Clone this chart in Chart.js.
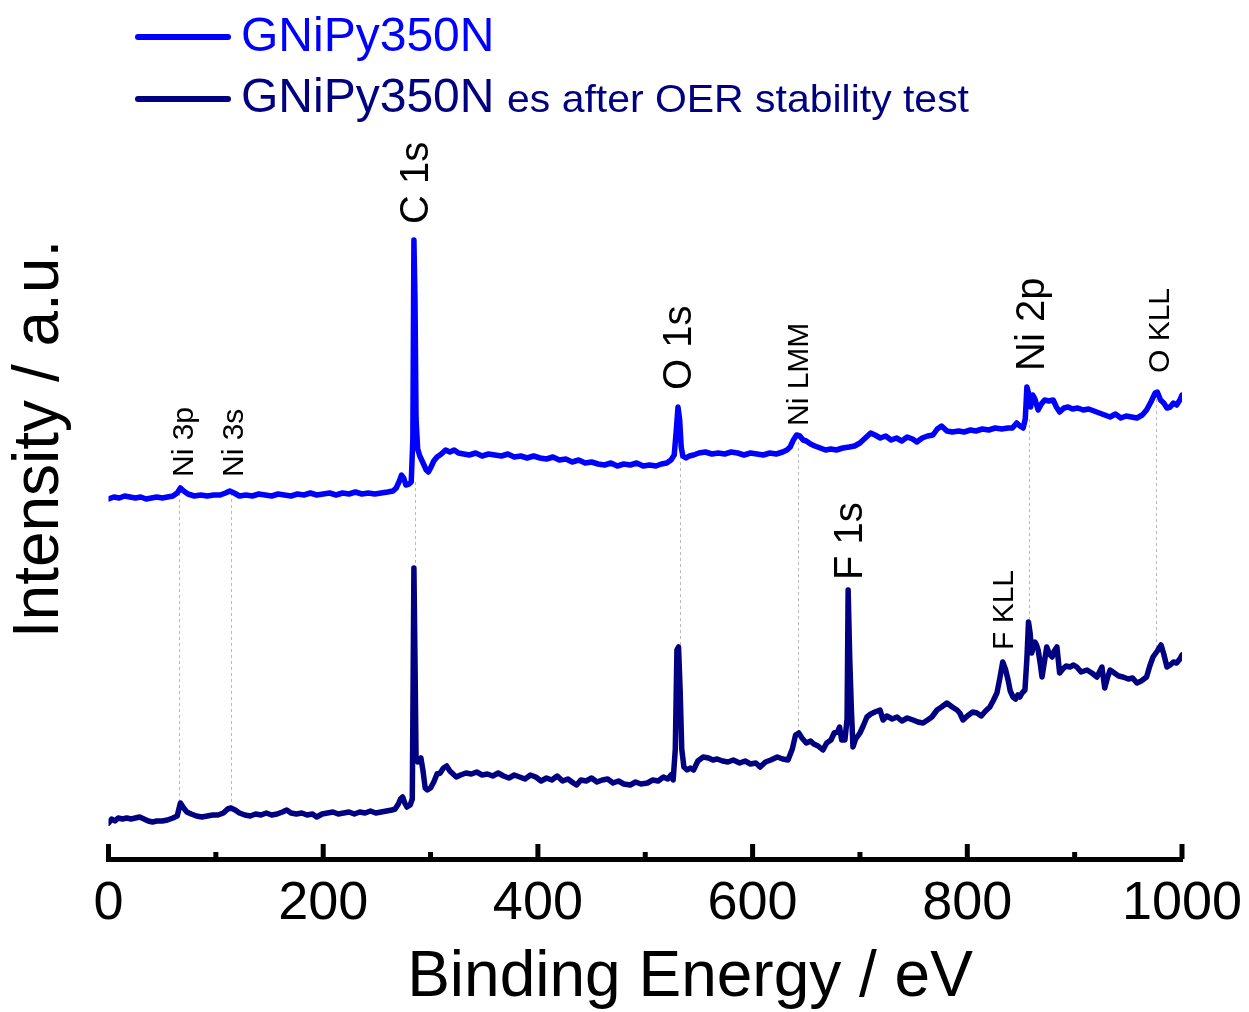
<!DOCTYPE html>
<html>
<head>
<meta charset="utf-8">
<title>XPS survey</title>
<script src="https://cdn.jsdelivr.net/npm/chart.js@4.4.1/dist/chart.umd.min.js"></script>
<style>
  html, body { margin: 0; padding: 0; background: #fff; }
  canvas { display: block; }
</style>
</head>
<body>
<canvas id="xpsChart" width="1249" height="1012"></canvas>
<script>
// binding energy (eV) / intensity (a.u.)
const pristineEnergy = [
  0, 5, 10, 15, 20, 25, 30, 35, 40, 45, 50, 55, 60, 64, 67, 70, 74, 80, 86, 92, 98, 104, 109, 113, 117, 122,
  128, 134, 140, 146, 152, 158, 164, 170, 176, 182, 188, 194, 200, 206, 212, 218, 224, 230, 236, 242, 248, 254,
  260, 265, 268, 271, 273, 275, 277, 280, 282, 283.5, 284.5, 285.5, 286.5, 288, 290, 293, 296, 298, 300, 303,
  306, 310, 314, 318, 322, 326, 331, 336, 342, 348, 354, 360, 366, 372, 378, 384, 390, 396, 402, 408, 414, 420,
  426, 432, 438, 444, 450, 456, 462, 468, 474, 480, 486, 492, 498, 504, 510, 515, 520, 524, 527, 529, 530.5,
  532, 533.5, 535, 538, 541, 545, 550, 556, 562, 568, 574, 580, 586, 592, 598, 604, 610, 616, 622, 628, 632,
  635, 638, 641, 644, 647, 650, 654, 658, 663, 668, 673, 678, 684, 690, 695, 700, 705, 710, 714, 719, 724, 729,
  734, 739, 744, 749, 753, 758, 763, 768, 772, 776, 781, 786, 792, 797, 803, 808, 814, 820, 826, 832, 838, 842,
  846, 849, 852, 854, 855.5, 857, 859, 861, 863, 866, 869, 872, 876, 880, 883, 886, 890, 894, 898, 903, 908,
  913, 918, 923, 928, 933, 938, 943, 948, 953, 958, 963, 967, 971, 975, 977, 980, 983, 986, 989, 992, 995, 998,
  1000
];
const pristineIntensity = [
  360, 362, 361, 363, 362, 361, 362, 360, 361, 362, 361, 362, 363, 366, 371, 368, 365, 363, 364, 363, 364, 364,
  366, 368, 366, 363, 364, 363, 365, 364, 363, 365, 364, 363, 365, 364, 366, 364, 365, 366, 364, 366, 365, 367,
  365, 366, 365, 366, 367, 368, 371, 378, 384, 381, 374, 375, 377, 420, 619, 560, 440, 410, 403, 396, 389, 387,
  391, 398, 402, 405, 409, 407, 409, 406, 405, 404, 406, 403, 405, 404, 403, 405, 402, 403, 401, 403, 401, 400,
  402, 399, 400, 397, 399, 396, 397, 395, 394, 396, 393, 395, 394, 396, 393, 394, 393, 395, 396, 399, 404, 430,
  452, 440, 412, 403, 401, 403, 404, 406, 407, 405, 406, 405, 407, 406, 404, 406, 405, 404, 406, 405, 407, 409,
  412, 419, 424, 423, 419, 418, 415, 413, 411, 409, 410, 409, 411, 412, 413, 416, 421, 426, 424, 421, 423, 419,
  421, 418, 422, 420, 417, 421, 423, 424, 430, 433, 428, 427, 428, 427, 429, 428, 430, 429, 431, 430, 431, 431,
  436, 433, 431, 440, 472, 466, 452, 464, 460, 449, 455, 459, 458, 459, 452, 447, 451, 452, 450, 451, 449, 450,
  448, 446, 444, 442, 445, 441, 443, 442, 441, 444, 449, 457, 466, 467, 459, 456, 451, 452, 456, 454, 459, 464
];

const afterEnergy = [
  0, 3, 6, 9, 13, 17, 21, 25, 29, 33, 37, 41, 45, 50, 55, 60, 64, 67, 70, 73, 77, 82, 87, 92, 97, 102, 107, 111,
  114, 118, 122, 127, 132, 137, 142, 147, 152, 157, 162, 166, 170, 175, 180, 185, 190, 194, 199, 204, 209, 214,
  219, 224, 229, 234, 239, 244, 249, 254, 259, 264, 267, 270, 272, 274, 276, 278, 281, 283, 284.5, 285.5, 286.5,
  288, 289.5, 291, 293, 295, 297, 300, 303, 306, 309, 312, 315, 318, 321, 324, 328, 333, 338, 343, 348, 353, 358,
  363, 368, 373, 378, 383, 388, 393, 398, 403, 408, 413, 418, 423, 428, 433, 436, 440, 445, 450, 455, 460, 465,
  470, 475, 480, 486, 491, 496, 502, 507, 512, 517, 521, 524, 526, 528, 529.5, 531, 532.5, 534, 536, 539, 542,
  545, 549, 554, 559, 563, 567, 572, 577, 582, 588, 593, 598, 603, 607, 612, 617, 623, 628, 633, 637, 640, 643,
  646, 650, 654, 657, 661, 665.5, 669, 673, 676, 679, 681, 683, 686, 688, 689, 690.5, 692, 693.5, 696, 700, 703,
  706.5, 710, 714, 718.7, 721.5, 725, 730, 734.6, 739, 744, 749.5, 754, 758.8, 763, 767, 771.8, 776, 781, 786,
  790.4, 793, 796, 800, 805, 809, 813, 817, 821, 824, 827.6, 830, 833, 835.5, 838, 840, 842.6, 845, 847, 849,
  851, 853.7, 855.5, 857, 858.5, 860, 861.5, 863, 864.5, 866, 868, 869.6, 871.5, 874, 876.5, 879, 881, 883.5,
  886, 889, 892, 895.6, 899, 902, 906, 911.5, 916, 920.8, 925.4, 928, 930.5, 933, 937, 941, 945, 950, 954, 958,
  962, 967, 970, 973, 977, 980.5, 983, 986, 989, 992, 995, 998, 1000
];
const afterIntensity = [
  36, 40, 38, 41, 40, 41, 40, 41, 42, 40, 38, 37, 38, 38, 39, 41, 43, 56, 51, 47, 45, 43, 42, 43, 44, 44, 46, 50,
  51, 49, 46, 44, 43, 45, 44, 46, 44, 45, 47, 49, 46, 45, 46, 44, 45, 42, 45, 46, 47, 45, 46, 47, 45, 47, 46, 48,
  46, 47, 48, 49, 50, 55, 60, 62, 56, 52, 54, 60, 291, 200, 102, 97, 98, 101, 88, 71, 69, 71, 77, 85, 86, 91, 93,
  88, 85, 82, 84, 86, 85, 87, 84, 85, 83, 86, 83, 81, 84, 82, 80, 84, 82, 78, 81, 79, 83, 78, 80, 76, 74, 79, 78,
  81, 77, 79, 80, 76, 78, 75, 74, 77, 75, 76, 79, 78, 82, 80, 84, 79, 110, 209, 212, 169, 110, 92, 89, 91, 89,
  98, 102, 101, 99, 100, 98, 97, 99, 96, 98, 95, 96, 92, 97, 99, 102, 100, 99, 110, 124, 126, 121, 116, 118, 115,
  113, 109, 116, 119, 126, 127, 132, 119, 119, 140, 269, 200, 150, 112, 120, 126, 133, 142, 145, 147, 149, 139,
  143, 140, 142, 138, 141, 139, 137, 136, 139, 142, 149, 152, 156, 152, 149, 146, 139, 143, 147, 146, 143, 148,
  152, 158, 166, 179, 197, 190, 179, 168, 162, 160, 164, 162, 166, 169, 200, 237, 226, 206, 212, 217, 214, 209,
  195, 182, 195, 212, 205, 202, 208, 212, 186, 190, 193, 192, 194, 192, 187, 189, 186, 182, 192, 171, 181, 189,
  186, 183, 182, 180, 181, 176, 178, 182, 193, 202, 208, 214, 205, 192, 194, 197, 196, 200, 204
];

const xTicks = [0, 200, 400, 600, 800, 1000];
const xMinorTicks = [100, 300, 500, 700, 900];

// peak assignments: text, energy (eV), intensity level where the rotated text starts
const peakText = ['Ni 3p', 'Ni 3s', 'C 1s', 'O 1s', 'Ni LMM', 'Ni 2p', 'O KLL', 'F 1s', 'F KLL'];
const peakEnergy = [68.5, 115.5, 284, 529.6, 641.8, 858.4, 977.6, 688.8, 832.8];
const peakLevel = [382, 382, 635, 469, 433, 488, 486, 279, 209];
const guideEnergy = [66, 114, 285.5, 532.4, 642.3, 857.5, 975.8];

const seriesNames = ['GNiPy350N', 'GNiPy350N es after OER stability test'];
const xTitle = 'Binding Energy / eV';

const FONT = "'Liberation Sans', Arial, Helvetica, sans-serif";
const BLUE = '#0000ff';
const NAVY = '#000080';
const bigLabels = ['C 1s', 'O 1s', 'Ni 2p', 'F 1s'];

const toPoints = (xs, ys) => xs.map((x, i) => ({ x, y: ys[i] }));

const nearValue = (xs, ys, e, win, pick) =>
  pick(...ys.filter((_, i) => Math.abs(xs[i] - e) <= win));

const xpsDecor = {
  id: 'xpsDecor',
  beforeDatasetsDraw(chart) {
    const { ctx, scales: { x, y } } = chart;
    ctx.save();
    ctx.strokeStyle = '#b8b8b8';
    ctx.lineWidth = 1;
    ctx.setLineDash([3, 3]);
    guideEnergy.forEach((e) => {
      const top = nearValue(pristineEnergy, pristineIntensity, e, 4, Math.min);
      const bottom = nearValue(afterEnergy, afterIntensity, e, 1.5, Math.max);
      const px = Math.round(x.getPixelForValue(e)) + 0.5;
      ctx.beginPath();
      ctx.moveTo(px, y.getPixelForValue(top));
      ctx.lineTo(px, y.getPixelForValue(bottom));
      ctx.stroke();
    });
    ctx.restore();
  },
  afterDraw(chart) {
    const { ctx, chartArea, scales: { x, y } } = chart;
    ctx.save();

    // inward tick marks on the energy axis
    ctx.strokeStyle = '#000';
    ctx.lineWidth = 5;
    ctx.lineCap = 'butt';
    const base = chartArea.bottom;
    xTicks.forEach((v) => {
      const px = x.getPixelForValue(v);
      ctx.beginPath(); ctx.moveTo(px, base); ctx.lineTo(px, base - 15); ctx.stroke();
    });
    xMinorTicks.forEach((v) => {
      const px = x.getPixelForValue(v);
      ctx.beginPath(); ctx.moveTo(px, base); ctx.lineTo(px, base - 7); ctx.stroke();
    });

    // axis title sits right of centre in the original
    ctx.fillStyle = '#000';
    ctx.font = `64px ${FONT}`;
    ctx.textAlign = 'center';
    ctx.textBaseline = 'alphabetic';
    ctx.fillText(xTitle, 690, 996);

    // peak labels, rotated
    ctx.textAlign = 'left';
    peakText.forEach((t, i) => {
      const size = bigLabels.includes(t) ? 40 : 30;
      ctx.save();
      ctx.font = `${size}px ${FONT}`;
      ctx.translate(x.getPixelForValue(peakEnergy[i]) + 0.358 * size, y.getPixelForValue(peakLevel[i]));
      ctx.rotate(-Math.PI / 2);
      ctx.fillText(t, 0, 0);
      ctx.restore();
    });

    // legend
    ctx.lineWidth = 6;
    ctx.lineCap = 'round';
    [[BLUE, 37, 51], [NAVY, 99, 112]].forEach(([color, ly, by], i) => {
      ctx.strokeStyle = color;
      ctx.beginPath(); ctx.moveTo(138, ly); ctx.lineTo(228, ly); ctx.stroke();
      ctx.fillStyle = color;
      ctx.font = `48px ${FONT}`;
      ctx.fillText('GNiPy350N', 241, by);
      if (i === 1) {
        ctx.save();
        ctx.font = `39px ${FONT}`;
        ctx.translate(507, by);
        ctx.scale(1.05, 1);
        ctx.fillText(seriesNames[1].replace('GNiPy350N ', ''), 0, 0);
        ctx.restore();
      }
    });
    ctx.restore();
  }
};

Chart.defaults.font.family = FONT;

const lineStyle = (color) => ({
  borderColor: color,
  backgroundColor: color,
  borderWidth: 5.5,
  showLine: true,
  pointRadius: 0,
  tension: 0,
  borderJoinStyle: 'round',
  borderCapStyle: 'round'
});

new Chart(document.getElementById('xpsChart'), {
  type: 'scatter',
  data: {
    datasets: [
      { label: seriesNames[0], data: toPoints(pristineEnergy, pristineIntensity), ...lineStyle(BLUE) },
      { label: seriesNames[1], data: toPoints(afterEnergy, afterIntensity), ...lineStyle(NAVY) }
    ]
  },
  options: {
    responsive: false,
    animation: false,
    layout: { padding: { top: 19, right: 67, bottom: 0, left: 0 } },
    plugins: {
      legend: { display: false },
      tooltip: { enabled: false }
    },
    scales: {
      x: {
        type: 'linear',
        min: 0,
        max: 1000,
        afterBuildTicks: (s) => { s.ticks = xTicks.map((v) => ({ value: v })); },
        afterFit: (s) => { s.height = 153; s.paddingLeft = 0; s.paddingRight = 0; },
        ticks: {
          color: '#000',
          font: { size: 54 },
          padding: 5,
          maxRotation: 0,
          autoSkip: false,
          callback: (v) => String(v)
        },
        grid: { display: false },
        border: { display: true, color: '#000', width: 5 }
      },
      y: {
        min: 0,
        max: 840,
        afterFit: (s) => { s.width = 108.5; },
        ticks: { display: false },
        grid: { display: false },
        border: { display: false },
        title: {
          display: true,
          text: 'Intensity / a.u.',
          color: '#000',
          font: { size: 64 },
          padding: { top: 2, bottom: 0 }
        }
      }
    }
  },
  plugins: [xpsDecor]
});
</script>
</body>
</html>
